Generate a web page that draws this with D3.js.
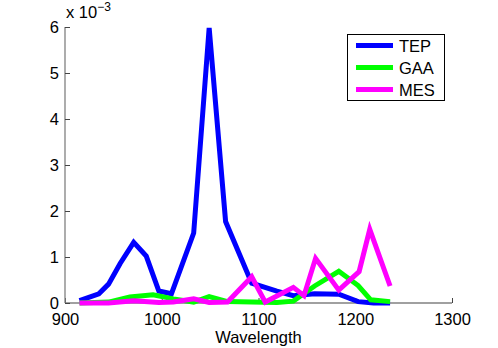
<!DOCTYPE html>
<html><head><meta charset="utf-8">
<script src="https://cdn.jsdelivr.net/npm/d3@7"></script>
<style>body{margin:0;background:#fff}svg{display:block}text{font-family:"Liberation Sans",Arial,sans-serif;}</style>
</head><body>
<script>
// values in units of 1e-3
const tepX = [915, 935, 945, 957, 971, 984, 997, 1010, 1033, 1049, 1066, 1093, 1119, 1136, 1158, 1183, 1203, 1219, 1236];
const tepY = [0.05, 0.2, 0.41, 0.86, 1.32, 1.02, 0.26, 0.2, 1.52, 5.98, 1.77, 0.43, 0.26, 0.16, 0.2, 0.19, 0.03, 0.0, 0.0];
const gaaX = [915, 945, 967, 991, 1012, 1033, 1049, 1068, 1093, 1119, 1136, 1158, 1183, 1203, 1216, 1236];
const gaaY = [0.0, 0.02, 0.13, 0.18, 0.09, 0.02, 0.14, 0.03, 0.02, 0.01, 0.04, 0.37, 0.69, 0.38, 0.07, 0.03];
const mesX = [915, 945, 971, 997, 1012, 1033, 1049, 1068, 1093, 1107, 1136, 1147, 1159, 1183, 1204, 1215, 1236];
const mesY = [0.0, 0.0, 0.05, 0.01, 0.02, 0.09, 0.01, 0.02, 0.57, 0.02, 0.34, 0.16, 0.97, 0.28, 0.68, 1.6, 0.37];
const seriesNames = ["TEP", "GAA", "MES"];
const seriesColors = ["#0000ff", "#00ff00", "#ff00ff"];
const xTicks = [900, 1000, 1100, 1200, 1300];
const yTicks = [0, 1, 2, 3, 4, 5, 6];
const xLabel = "Wavelength";

const W = 498, H = 348;
const m = {left: 65, right: 46, top: 27, bottom: 45};
const svg = d3.select("body").append("svg").attr("width", W).attr("height", H);
const x = d3.scaleLinear().domain([900, 1300]).range([m.left, W - m.right]);
const y = d3.scaleLinear().domain([0, 6]).range([H - m.bottom, m.top]);

const series = [[tepX, tepY], [gaaX, gaaY], [mesX, mesY]].map((s, i) => ({
  name: seriesNames[i], color: seriesColors[i],
  pts: s[0].map((v, j) => [v, s[1][j]])
}));

const axisColor = "#808080";
const fs = "16.5px";
const xAxis = svg.append("g").attr("transform", `translate(0,${y(0)})`)
  .call(d3.axisBottom(x).tickValues(xTicks).tickSize(-5).tickPadding(10).tickFormat(d3.format("d")));
const yAxis = svg.append("g").attr("transform", `translate(${x(900)},0)`)
  .call(d3.axisLeft(y).tickValues(yTicks).tickSize(-5).tickPadding(6).tickFormat(d3.format("d")));
[xAxis, yAxis].forEach(a => {
  a.select(".domain").attr("stroke", axisColor).attr("stroke-width", 1.3);
  a.selectAll(".tick line").attr("stroke", "#444");
  a.selectAll(".tick text").attr("fill", "#000").style("font-size", fs);
});
xAxis.select(".domain").attr("d", `M${x(900)},0H${x(1300)}`);
yAxis.select(".domain").attr("d", `M0,${y(0)}V${y(6)}`);

const line = d3.line().x(d => x(d[0])).y(d => y(d[1]));
svg.append("g").selectAll("path").data(series).join("path")
  .attr("d", d => line(d.pts)).attr("fill", "none").attr("stroke", d => d.color)
  .attr("stroke-width", 5).attr("stroke-linejoin", "miter");

// exponent label
const ex = svg.append("text").attr("x", 66).attr("y", 18).style("font-size", fs).attr("fill", "#000");
ex.append("tspan").text("x 10");
ex.append("tspan").attr("dy", -7).style("font-size", "12px").text("\u22123");

// x label
svg.append("text").attr("x", x(1100)).attr("y", 343).attr("text-anchor", "middle")
  .style("font-size", fs).text(xLabel);

// legend
const lg = svg.append("g");
lg.append("rect").attr("x", 347.5).attr("y", 34.5).attr("width", 97).attr("height", 66)
  .attr("fill", "#fff").attr("stroke", "#000").attr("stroke-width", 1);
series.forEach((s, i) => {
  const yy = 45.5 + i * 22;
  lg.append("line").attr("x1", 356).attr("x2", 393).attr("y1", yy).attr("y2", yy)
    .attr("stroke", s.color).attr("stroke-width", 5);
  lg.append("text").attr("x", 399).attr("y", yy + 6).style("font-size", fs).text(s.name);
});
</script>
</body></html>
